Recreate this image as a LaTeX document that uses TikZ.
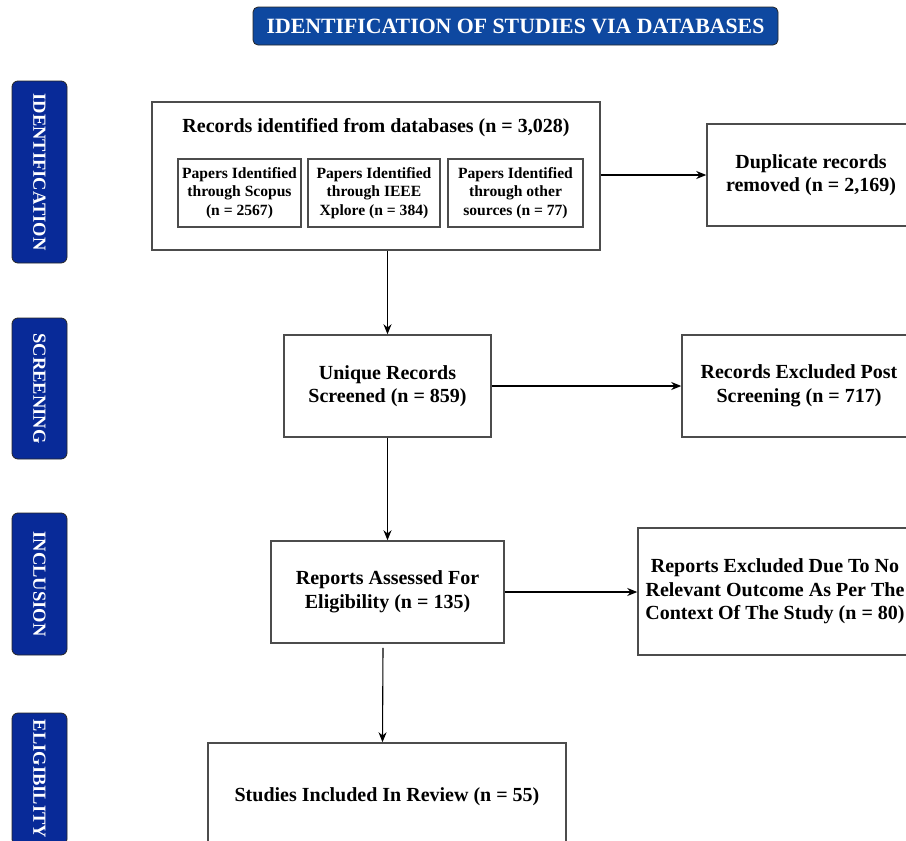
\documentclass[tikz,border=0pt]{standalone}
\usepackage{fontspec}
\setmainfont{Liberation Serif}
\usetikzlibrary{arrows.meta}

\definecolor{bannerblue}{RGB}{14,72,160}
\definecolor{phaseblue}{RGB}{8,42,152}

\tikzset{
	box/.style={draw=black!70, line width=1.5pt, align=center, inner sep=0pt,
		font=\bfseries\fontsize{20}{23.5}\selectfont},
	subbox/.style={draw=black!70, line width=1.3pt, align=center, inner sep=0pt,
		font=\bfseries\fontsize{15.6}{18.5}\selectfont},
	phase/.style={draw=black!85, fill=phaseblue, rounded corners=6pt, line width=0.8pt,
		text=white, inner sep=0pt, rotate=-90, minimum height=55pt,
		font=\bfseries\fontsize{18.5}{20}\selectfont},
}

\begin{document}
\begin{tikzpicture}[x=1pt, y=-1pt, >={Stealth[length=10pt,width=8pt]}, line width=1.1pt]
		\useasboundingbox (0, 0) rectangle (906, 841);
		\clip (0, 0) rectangle (906, 841);
		
		% Заголовок
		\node[draw=black!85, fill=bannerblue, rounded corners=5pt, line width=0.8pt,
			minimum width=525pt, minimum height=38pt, inner sep=0pt, text=white,
			font=\bfseries\fontsize{21.8}{24}\selectfont] (banner) at (515.5, 26)
			{IDENTIFICATION OF STUDIES VIA DATABASES};
		
		% Этапы слева
		\node[phase, minimum width=182pt] (pident) at (39.5, 172) {IDENTIFICATION};
		\node[phase, minimum width=141pt] (pscreen) at (39.5, 388.5) {SCREENING};
		\node[phase, minimum width=142pt] (pincl) at (39.5, 584) {INCLUSION};
		\node[phase, minimum width=132pt] (pelig) at (39.5, 779) {ELIGIBILITY};
		
		% Основные блоки
		\node[box, minimum width=448pt, minimum height=148pt] (recs) at (376, 176) {};
		\node[font=\bfseries\fontsize{20}{23.5}\selectfont, inner sep=0pt] (recstitle) at (376, 128)
			{Records identified from databases (n = 3,028)};
		
		\node[subbox, minimum width=123pt, minimum height=68pt] (scopus) at (239.5, 193)
			{Papers Identified\\through Scopus\\(n = 2567)};
		\node[subbox, minimum width=132pt, minimum height=68pt] (ieee) at (374, 193)
			{Papers Identified\\through IEEE\\Xplore (n = 384)};
		\node[subbox, minimum width=135pt, minimum height=68pt] (other) at (515.5, 193)
			{Papers Identified\\through other\\sources (n = 77)};
		
		\node[box, minimum width=208pt, minimum height=102pt] (dup) at (811, 175)
			{Duplicate records\\removed (n = 2,169)};
		\node[box, minimum width=207pt, minimum height=102pt] (uniq) at (387.5, 386)
			{Unique Records\\Screened (n = 859)};
		\node[box, minimum width=234pt, minimum height=102pt] (post) at (799, 386)
			{Records Excluded Post\\Screening (n = 717)};
		\node[box, minimum width=233pt, minimum height=102pt] (assess) at (387.5, 592)
			{Reports Assessed For\\Eligibility (n = 135)};
		\node[box, minimum width=274pt, minimum height=127pt] (excl) at (775, 591.5)
			{Reports Excluded Due To No\\Relevant Outcome As Per The\\Context Of The Study (n = 80)};
		\node[box, minimum width=358pt, minimum height=107pt] (incl) at (387, 796.5)
			{Studies Included In Review (n = 55)};
		
		% Стрелки
		\draw[->] (recs.east |- dup.west) -- (dup.west);
		\draw[->] (recs.south -| uniq.north) -- (uniq.north);
		\draw[->] (uniq.east) -- (uniq.east -| post.west);
		\draw[->] (uniq.south) -- (assess.north);
		\draw[->] (assess.east) -- (assess.east -| excl.west);
		\draw[->] ([shift={(-4.5, 4)}]assess.south) -- ([xshift=-4.5pt]incl.north);
\end{tikzpicture}
\end{document}
